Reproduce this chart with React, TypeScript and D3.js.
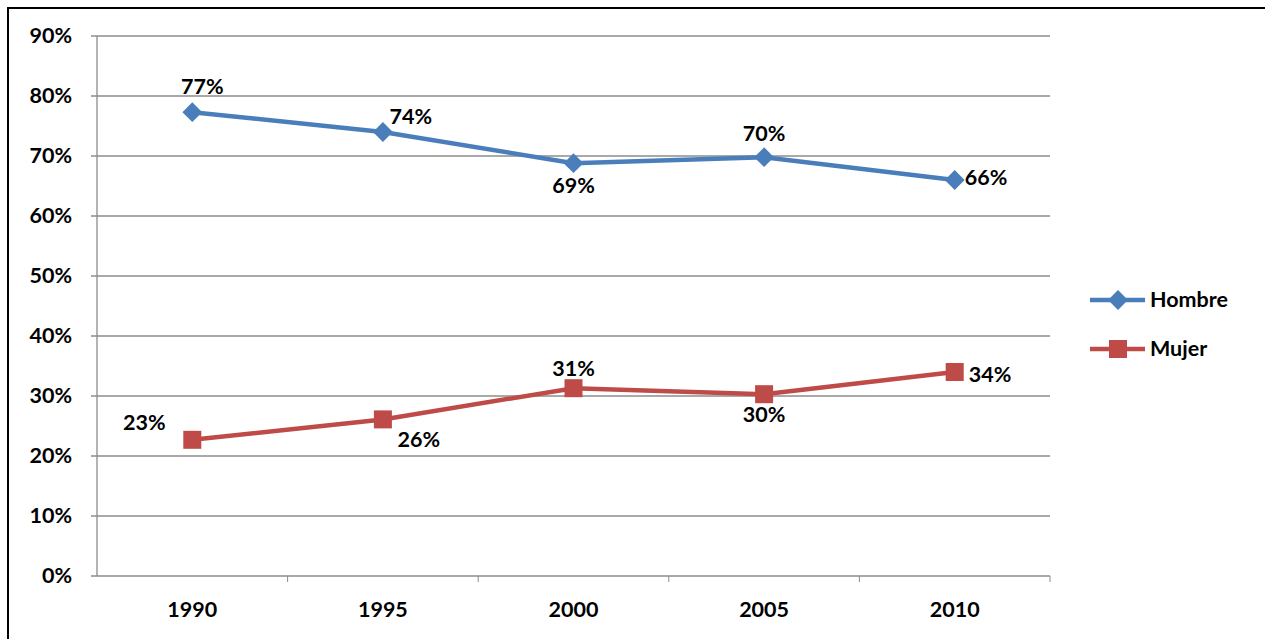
import React from 'react';
import * as d3 from 'd3';

const years = ['1990', '1995', '2000', '2005', '2010'];
const hombre = [77.3, 74.0, 68.8, 69.8, 66.0];
const mujer = [22.7, 26.1, 31.3, 30.3, 34.0];
const hombreLabels = ['77%', '74%', '69%', '70%', '66%'];
const mujerLabels = ['23%', '26%', '31%', '30%', '34%'];
const yTicks = [0, 10, 20, 30, 40, 50, 60, 70, 80, 90];

// label offsets [dx, dy, anchor] per point
const hombrePos: [number, number, string][] = [
  [10, -18, 'middle'], [28, -8, 'middle'], [0, 30, 'middle'], [0, -16, 'middle'], [10, 5, 'start'],
];
const mujerPos: [number, number, string][] = [
  [-48, -10, 'middle'], [36, 28, 'middle'], [0, -12, 'middle'], [0, 28, 'middle'], [14, 10, 'start'],
];

const font = 'Lato, "Open Sans", sans-serif';
const fs = 21.5;

export default function App() {
  const left = 97, right = 1050, top = 36, bottom = 576;
  const x = d3.scaleBand().domain(years).range([left, right]);
  const y = d3.scaleLinear().domain([0, 90]).range([bottom, top]);
  const cx = (i: number) => x(years[i])! + x.bandwidth() / 2;
  const line = d3.line<number>().x((_, i) => cx(i)).y(d => y(d));
  const blue = '#4a7ebb';
  const red = '#be4b48';

  return (
    <svg width={1265} height={639} style={{ position: 'absolute', left: 0, top: 0 }} fontFamily={font}>
      <rect x={0} y={0} width={1265} height={639} fill="white" />
      <rect x={8} y={8} width={1262} height={640} fill="none" stroke="black" strokeWidth={2} />
      {yTicks.map(t => (
        <g key={t}>
          <line x1={left - 6} x2={right} y1={y(t)} y2={y(t)} stroke="#8c8c8c" strokeWidth={1.3} />
          <text x={72} y={y(t) + 7} textAnchor="end" fontSize={fs} fontWeight="bold">{t}%</text>
        </g>
      ))}
      <line x1={left} x2={left} y1={top} y2={bottom} stroke="#8c8c8c" strokeWidth={1.3} />
      {years.map((yr, i) => (
        <g key={yr}>
          <line x1={x(yr)! + x.bandwidth()} x2={x(yr)! + x.bandwidth()} y1={bottom} y2={bottom + 6} stroke="#8c8c8c" />
          <text x={cx(i)} y={617} textAnchor="middle" fontSize={fs} fontWeight="bold">{yr}</text>
        </g>
      ))}
      <path d={line(hombre)!} fill="none" stroke={blue} strokeWidth={4.5} />
      <path d={line(mujer)!} fill="none" stroke={red} strokeWidth={4.5} />
      {hombre.map((v, i) => (
        <g key={i}>
          <rect x={-7} y={-7} width={14} height={14} fill={blue} transform={`translate(${cx(i)},${y(v)}) rotate(45)`} />
          <text x={cx(i) + hombrePos[i][0]} y={y(v) + hombrePos[i][1]} textAnchor={hombrePos[i][2]} fontSize={fs} fontWeight="bold">{hombreLabels[i]}</text>
        </g>
      ))}
      {mujer.map((v, i) => (
        <g key={i}>
          <rect x={cx(i) - 9} y={y(v) - 9} width={18} height={18} fill={red} />
          <text x={cx(i) + mujerPos[i][0]} y={y(v) + mujerPos[i][1]} textAnchor={mujerPos[i][2]} fontSize={fs} fontWeight="bold">{mujerLabels[i]}</text>
        </g>
      ))}
      <line x1={1090} x2={1145} y1={300} y2={300} stroke={blue} strokeWidth={4.5} />
      <rect x={-7} y={-7} width={14} height={14} fill={blue} transform="translate(1118,300) rotate(45)" />
      <text x={1150} y={307} fontSize={fs} fontWeight="bold">Hombre</text>
      <line x1={1090} x2={1145} y1={349} y2={349} stroke={red} strokeWidth={4.5} />
      <rect x={1109} y={340} width={18} height={18} fill={red} />
      <text x={1150} y={356} fontSize={fs} fontWeight="bold">Mujer</text>
    </svg>
  );
}
